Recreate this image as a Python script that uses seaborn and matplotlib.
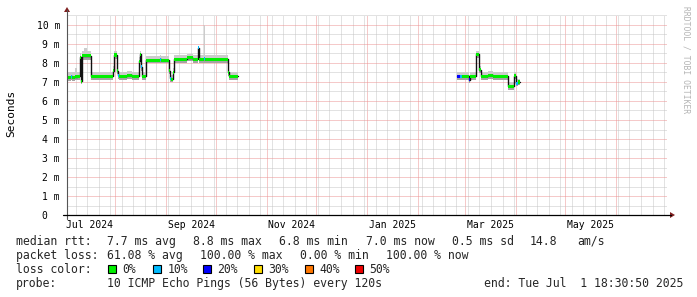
import numpy as np
import pandas as pd
import matplotlib
matplotlib.use("Agg")
import matplotlib.pyplot as plt
import matplotlib.dates as mdates
import matplotlib.ticker as mticker
from matplotlib.patches import Rectangle, Polygon
from matplotlib.lines import Line2D
import seaborn as sns

# ---------------- data ----------------
x_start = "2024-07-02 18:30:50"
x_end = "2025-07-01 18:30:50"

seg1_time = ["2024-07-02 18:30", "2024-07-05 06:00", "2024-07-05 20:00", "2024-07-07 12:00",
             "2024-07-09 00:00", "2024-07-10 09:00", "2024-07-10 23:00", "2024-07-11 11:00",
             "2024-07-12 01:00", "2024-07-13 06:00", "2024-07-15 00:00", "2024-07-17 08:00",
             "2024-07-30 11:00", "2024-07-31 00:00", "2024-08-02 07:00", "2024-08-02 20:00",
             "2024-08-03 10:00", "2024-08-08 00:00", "2024-08-11 00:00", "2024-08-15 11:00",
             "2024-08-16 01:00", "2024-08-16 16:00", "2024-08-17 06:00", "2024-08-19 16:00",
             "2024-08-28 00:00", "2024-08-28 14:00", "2024-09-02 16:00", "2024-09-03 06:00",
             "2024-09-03 21:00", "2024-09-05 01:00", "2024-09-05 16:00", "2024-09-13 13:00",
             "2024-09-17 06:00", "2024-09-20 06:00", "2024-09-20 21:00", "2024-09-24 00:00",
             "2024-09-24 14:00", "2024-10-08 11:00", "2024-10-09 02:00"]
seg1_end = "2024-10-14 13:00"
seg1_median = [7.25, 7.30, 7.25, 7.28, 7.30, 7.45, 8.30, 7.05, 8.37, 8.37, 8.37, 7.30,
               7.60, 8.42, 7.60, 7.35, 7.30, 7.35, 7.30, 8.10, 8.45, 7.80, 7.30, 8.15,
               8.20, 8.15, 7.60, 7.20, 7.15, 7.50, 8.20, 8.27, 8.20, 8.80, 8.20, 8.22,
               8.20, 7.50, 7.30]
seg1_loss = [0, 10, 0, 0, 0, 0, 0, 0, 0, 0, 0, 0,
             0, 0, 0, 10, 0, 0, 0, 0, 0, 10, 0, 0,
             10, 0, 0, 10, 0, 0, 0, 0, 0, 10, 0, 10,
             0, 0, 0]
seg1_smoke_lo = [7.05, 7.10, 7.05, 7.08, 7.08, 7.25, 8.12, 6.90, 8.15, 8.15, 8.15, 7.10,
                 7.42, 8.22, 7.42, 7.15, 7.10, 7.15, 7.10, 7.90, 8.25, 7.60, 7.10, 7.98,
                 8.00, 7.98, 7.40, 7.00, 6.98, 7.32, 8.02, 8.08, 8.02, 8.60, 8.02, 8.02,
                 8.02, 7.32, 7.12]
seg1_smoke_hi = [7.50, 7.55, 7.50, 7.72, 7.52, 7.68, 8.50, 7.30, 8.62, 8.78, 8.65, 7.55,
                 7.82, 8.65, 7.82, 7.58, 7.52, 7.58, 7.52, 8.32, 8.62, 8.00, 7.50, 8.38,
                 8.42, 8.38, 7.82, 7.42, 7.38, 7.72, 8.42, 8.48, 8.42, 8.90, 8.42, 10.0,
                 8.42, 7.72, 7.52]

seg2_time = ["2025-02-24 11:00", "2025-02-26 00:00", "2025-02-27 12:00", "2025-03-03 16:00",
             "2025-03-04 06:00", "2025-03-07 18:00", "2025-03-09 23:00", "2025-03-10 18:00",
             "2025-03-15 00:00", "2025-03-18 00:00", "2025-03-27 04:00", "2025-03-31 00:00",
             "2025-04-01 04:00", "2025-04-02 04:00"]
seg2_end = "2025-04-03 09:00"
seg2_median = [7.30, 7.30, 7.30, 7.12, 7.30, 8.45, 7.65, 7.30, 7.35, 7.30, 6.78, 7.33, 6.93, 7.00]
seg2_loss = [20, 10, 0, 20, 0, 0, 0, 0, 0, 0, 0, 0, 10, 0]
seg2_smoke_lo = [7.10, 7.10, 7.10, 6.95, 7.10, 8.28, 7.48, 7.10, 7.15, 7.10, 6.60, 7.15, 6.78, 6.85]
seg2_smoke_hi = [7.55, 7.55, 7.55, 7.35, 7.52, 8.65, 7.85, 7.52, 7.58, 7.52, 7.00, 7.52, 7.15, 7.15]

loss_levels = [0, 10, 20, 30, 40, 50]
loss_colors = ["#00f000", "#00bbff", "#0000ff", "#ffdd00", "#ff7700", "#ee0000"]

label_months = ["2024-07", "2024-09", "2024-11", "2025-01", "2025-03", "2025-05"]
grid_months = pd.date_range("2024-08-01", "2025-06-01", freq="MS")

legend_rtt = ["median rtt:", "7.7 ms avg", "8.8 ms max", "6.8 ms min", "7.0 ms now",
              "0.5 ms sd", "14.8", "am/s"]
legend_loss = ["packet loss:", "61.08 % avg", "100.00 % max", "0.00 % min", "100.00 % now"]
legend_color = "loss color:"
legend_probe = ["probe:", "10 ICMP Echo Pings (56 Bytes) every 120s"]
legend_end = "end: Tue Jul  1 18:30:50 2025"

# ---------------- figure ----------------
sns.set_theme(style="white")
plt.rcParams["font.family"] = ["DejaVu Sans Mono", "DejaVu Sans"]

W, H = 697, 297
fig = plt.figure(figsize=(W / 100, H / 100), dpi=100, facecolor="white")


def fx(px):
    return px / W


def fy(py):
    return (H - py) / H


ax = fig.add_axes([fx(67), fy(215), 600 / W, 200 / H])
ax.set_facecolor("white")

color_of = dict(zip(loss_levels, loss_colors))
band = 0.08

segments = [
    (seg1_time, seg1_end, seg1_median, seg1_loss, seg1_smoke_lo, seg1_smoke_hi),
    (seg2_time, seg2_end, seg2_median, seg2_loss, seg2_smoke_lo, seg2_smoke_hi),
]

frames = []
for sid, (tt, te, med, loss, lo, hi) in enumerate(segments):
    t = mdates.date2num(pd.to_datetime(list(tt) + [te]))
    med_e = np.array(list(med) + [med[-1]])
    lo_e = np.array(list(lo) + [lo[-1]])
    hi_e = np.array(list(hi) + [hi[-1]])
    ax.fill_between(t, lo_e, hi_e, step="post", color="#cccccc", lw=0, zorder=2)
    ax.fill_between(t, lo_e, med_e, step="post", color="#a4a4a4", lw=0, zorder=2)
    ax.fill_between(t, med_e - band, med_e + band, step="post", color=color_of[0], lw=0, zorder=4)
    widths = np.diff(t)
    for i, lv in enumerate(loss):
        if lv != 0:
            ax.bar(t[i], 2 * band, width=widths[i], bottom=med[i] - band, align="edge",
                   color=color_of[lv], lw=0, zorder=5)
    frames.append(pd.DataFrame({"t": t, "median": med_e, "seg": sid}))

line_df = pd.concat(frames, ignore_index=True)
sns.lineplot(data=line_df, x="t", y="median", units="seg", estimator=None,
             drawstyle="steps-post", color="#111111", lw=1.0, ax=ax, legend=False, zorder=3)

# axes limits and grid
xs, xe = mdates.date2num(pd.to_datetime([x_start, x_end]))
ax.set_xlim(xs, xe)
ax.set_ylim(0, 200 / 19)
ax.xaxis.set_major_locator(mticker.FixedLocator(mdates.date2num(grid_months)))
ax.xaxis.set_minor_locator(mdates.WeekdayLocator(byweekday=mdates.MO))
ax.xaxis.set_major_formatter(mticker.NullFormatter())
ax.xaxis.set_minor_formatter(mticker.NullFormatter())
ax.yaxis.set_major_locator(mticker.MultipleLocator(1))
ax.yaxis.set_minor_locator(mticker.MultipleLocator(0.5))
ax.yaxis.set_major_formatter(mticker.FuncFormatter(
    lambda v, p: "0  " if abs(v) < 1e-9 else f"{int(round(v))} m"))
ax.set_axisbelow(True)
ax.grid(which="minor", color="#c6c6c6", linestyle=(0, (1, 1)), lw=0.72, zorder=0)
ax.grid(which="major", color="#ec9494", linestyle=(0, (1, 1)), lw=0.72, zorder=0)
ax.tick_params(axis="y", which="both", length=0, pad=5, labelsize=7, labelcolor="black")
ax.tick_params(axis="x", which="both", length=0)
for s in ax.spines.values():
    s.set_visible(False)
ax.set_xlabel("")
ax.set_ylabel("")

# month labels centred in the month
for m in label_months:
    p = pd.Period(m, freq="M")
    mid = p.start_time + (p.end_time - p.start_time) / 2
    ax.text(mdates.date2num(mid), -0.05, mid.strftime("%b %Y"),
            transform=ax.get_xaxis_transform(),
            ha="center", va="center", fontsize=7, color="black")

# axis lines + arrows
fig.add_artist(Line2D([fx(67), fx(67)], [fy(219), fy(10)], color="#555555", lw=0.8))
fig.add_artist(Line2D([fx(63), fx(671)], [fy(215), fy(215)], color="black", lw=0.9))
fig.add_artist(Polygon([[fx(64), fy(12)], [fx(70), fy(12)], [fx(67), fy(7)]],
                       closed=True, color="#7f1f1f", lw=0))
fig.add_artist(Polygon([[fx(670), fy(212)], [fx(670), fy(218)], [fx(675), fy(215)]],
                       closed=True, color="#7f1f1f", lw=0))

# y label and watermark
fig.text(fx(11), fy(113), "Seconds", rotation=90, ha="center", va="center",
         fontsize=8, color="black")
fig.text(fx(686), fy(60), "RRDTOOL / TOBI OETIKER", rotation=270, ha="center",
         va="center", fontsize=5.8, color="#b4b4b4")

# legend
lf = 8.3
rtt_x = [16, 107.3, 192.7, 279.3, 365.5, 452, 529.5, 577]
for xx, s in zip(rtt_x, legend_rtt):
    fig.text(fx(xx), fy(241.3), s, ha="left", va="center", fontsize=lf)
loss_x = [16, 107.3, 200, 300, 385.5]
for xx, s in zip(loss_x, legend_loss):
    fig.text(fx(xx), fy(255.3), s, ha="left", va="center", fontsize=lf)
fig.text(fx(16), fy(269.3), legend_color, ha="left", va="center", fontsize=lf)
probe_x = [16, 107.3]
for xx, s in zip(probe_x, legend_probe):
    fig.text(fx(xx), fy(283.7), s, ha="left", va="center", fontsize=lf)
fig.text(fx(683), fy(283.7), legend_end, ha="right", va="center", fontsize=lf)

box_x = [108, 152.7, 203, 254, 305, 355]
for bx, lv in zip(box_x, loss_levels):
    fig.add_artist(Rectangle((fx(bx), fy(272.5)), 8 / W, 8 / H, facecolor=color_of[lv],
                             edgecolor="black", lw=0.8))
    fig.text(fx(bx + 14.5), fy(269.3), f"{lv}%", ha="left", va="center", fontsize=lf)

fig.savefig("out.png", dpi=100, facecolor="white")
